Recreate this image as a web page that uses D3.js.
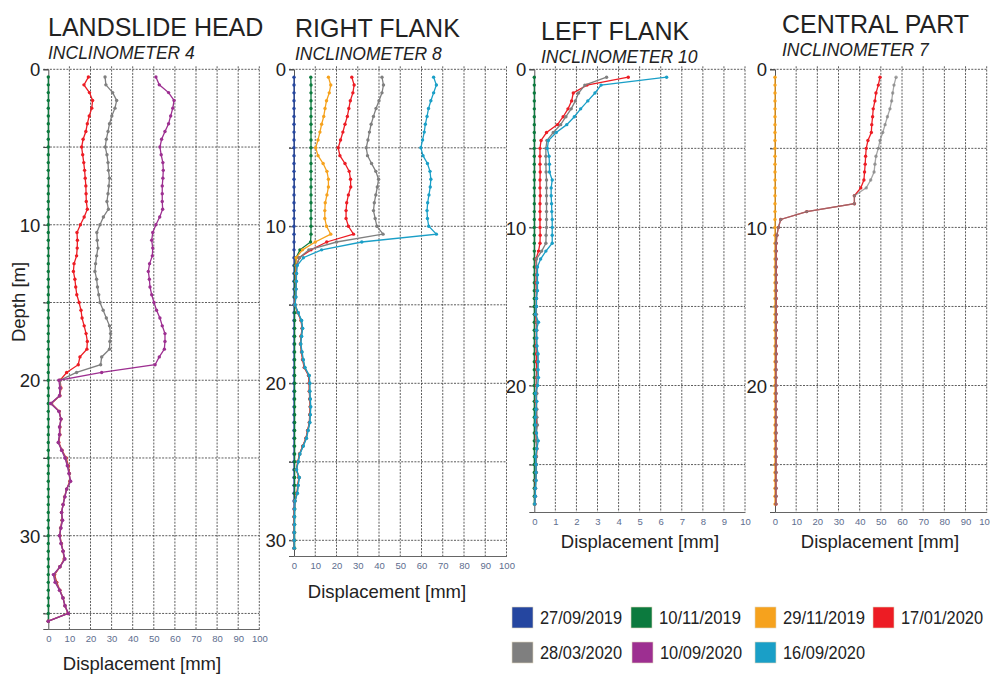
<!DOCTYPE html>
<html>
<head>
<meta charset="utf-8">
<script src="https://cdn.jsdelivr.net/npm/d3@7"></script>
<style>
  body { margin: 0; background: #fff; }
  text { font-family: Arial, "Liberation Sans", sans-serif; }
</style>
</head>
<body>
<div id="chart"></div>
<script>
// survey dates and their colours (legend order)
const dates = ["27/09/2019", "10/11/2019", "29/11/2019", "17/01/2020", "28/03/2020", "10/09/2020", "16/09/2020"];
const colors = ["#2546a0", "#0c7a3e", "#f6a21d", "#ed1c24", "#7f7f7f", "#9d2f91", "#1a9fc7"];

const xTicks100 = [0, 10, 20, 30, 40, 50, 60, 70, 80, 90, 100];
const xTicks10 = [0, 1, 2, 3, 4, 5, 6, 7, 8, 9, 10];
const depthLabels = [0, 10, 20, 30];

// measurement stations every 0.5 m
const depthsHead = d3.range(0.5, 35.75, 0.5);
const depthsRight = d3.range(0.5, 30.75, 0.5);
const depthsLeft = d3.range(0.5, 27.75, 0.5);
const depthsCentral = d3.range(0.5, 27.75, 0.5);

// inclinometer 4 - landslide head
const headGreen = [
  0,0,0,0,0,0,0,0,0,0, 0,0,0,0,0,0,0,0,0,0, 0,0,0,0,0,0,0,0,0,0, 0,0,0,0,0,0,0,0,0,0,
  0,0,0,0,0,0,0,0,0,0, 0,0,0,0,0,0,0,0,0,0, 0,0,0,0,0,0,0,0,0,0, 0];
const headRed = [
  19, 16.9, 19.5, 21, 20.6, 19.4, 18.5, 17.8, 16.5, 15.8,
  16.3, 16.8, 17.2, 17.5, 17.8, 17.9, 18, 18.5, 17, 15.2,
  13.6, 13.8, 13.7, 13.4, 12.2, 11.9, 12.6, 13, 13.5, 14.6,
  15.5, 16, 17, 17.9, 18.5, 18.3, 15, 14.2, 8.7, 5.6,
  6, 5.5, 1.5, 5.2, 6, 5.5, 5.5, 5, 6.5, 8.5,
  9.5, 10, 10.2, 8.7, 7.7, 7, 6.3, 6.5, 5.8, 5.5,
  6.2, 7, 7.5, 5.5, 3, 4, 5.5, 7, 7.9, 9.3,
  0];
const headGray = [
  26.9, 27.3, 30.5, 32.4, 31.6, 30.1, 29, 28.3, 27.5, 27,
  27.8, 28.3, 28.5, 29, 28.7, 28.3, 27.8, 28.5, 26.1, 24.5,
  23, 23.2, 23.5, 22.9, 22.4, 22.1, 22.9, 23.3, 23.9, 24.5,
  26, 27.5, 29, 29.5, 29.2, 29, 25.3, 24.8, 13.4, 5.6,
  5.7, 5.4, 1.3, 5.1, 6, 5.4, 5.4, 4.8, 6.4, 8.2,
  9.2, 9.9, 10.4, 8.7, 7.8, 7, 6.3, 6.6, 5.9, 5.4,
  6.1, 7, 7.7, 5.5, 2.7, 3.6, 5.4, 7, 7.9, 9.4,
  0];
const headPurple = [
  51, 52.6, 57, 59.6, 59, 58, 57, 55.3, 53.7, 52.9,
  53.5, 54.3, 54.5, 54.3, 54, 54, 54, 54.2, 52.8, 51,
  49.5, 49, 49.5, 49.3, 48, 47.4, 47.9, 48.2, 49, 50.1,
  51.3, 52.9, 54, 55.3, 55.3, 55, 52.6, 50.6, 25.3, 5,
  5.5, 5.3, 1.1, 5, 6, 5.3, 5.3, 4.7, 6.3, 7.9,
  9, 9.8, 10.6, 8.7, 7.9, 7, 6.3, 6.8, 6, 5.3,
  6, 7, 7.9, 5.5, 2.4, 3.2, 5.3, 6.9, 7.9, 9.5,
  0];

// inclinometer 8 - right flank
const rightBlue = [
  0,0,0,0,0,0,0,0,0,0, 0,0,0,0,0,0,0,0,0,0, 0,0,0,0,0,0,0,0,0,0,
  0,0,0,0,0,0,0,0,0,0, 0,0,0,0,0,0,0,0,0,0, 0,0,0,0,0,0,0,0,0,0, 0];
const rightGreen = [
  7.9, 8, 8, 8, 8, 8, 8, 8, 8, 8,
  8, 8, 8, 8, 8, 8, 8, 8, 8, 8,
  8, 7.8, 2.8, 1, 0.5, 0.4, 0.3, 0.3, 0.3, 0.3,
  0.3, 0.3, 0.3, 0.3, 0.3, 0.3, 0.3, 0.3, 0.3, 0.3,
  0.3, 0.3, 0.3, 0.3, 0.3, 0.3, 0.3, 0.3, 0.3, 0.3,
  0.3, 0.3, 0.3, 0.3, 0.3, 0.3, 0.3, 0.3, 0.3, 0.3,
  0.3];
const rightOrange = [
  16.2, 17.3, 16.6, 15.3, 14.6, 14, 13, 12.2, 11.3, 10.2,
  11.3, 13.7, 15.5, 16.2, 16.2, 15.5, 14.7, 14.5, 14.5, 15.3,
  17.3, 10, 4, 1,
  1, 0.9, 0.9, 0.8, 0.7, 0.4, 1.8, 3.4, 3.9, 3.4,
  3.1, 3.6, 4.2, 5, 7, 7.3, 7.3, 7.5, 7.7, 7.5,
  7.3, 6.5, 5.7, 4.2, 2.6, 1.8, 1.1, 2.3, 1.8, 1.4,
  0.4, 0.2, 0.1, 0.1, 0.1, 0.1, 0.1];
const rightRed = [
  27.2, 28.3, 27.7, 26.5, 25.8, 25.1, 24, 23, 21.9, 20.8,
  21.6, 24, 26, 26.6, 26.7, 25.6, 24.8, 24.5, 24.5, 25.6,
  28, 15.4, 8, 2.5,
  1.2, 1, 0.9, 0.8, 0.7, 0.4, 1.8, 3.3, 3.8, 3.3,
  3, 3.5, 4, 4.8, 6.8, 7.1, 7.2, 7.4, 7.6, 7.4,
  7.2, 6.4, 5.6, 4.1, 2.6, 1.8, 1.1, 2.3, 1.8, 1.4,
  0.4, 0.2, 0.1, 0.1, 0.1, 0.1, 0.1];
const rightGray = [
  41.4, 42.1, 41.4, 40, 38.6, 37.4, 36.3, 35.5, 34.8, 34,
  34.6, 36.5, 38.5, 39.8, 39.2, 38.5, 37.8, 37.4, 38.2, 39,
  41.9, 20, 7, 2.5,
  1.3, 1.1, 1, 0.9, 0.8, 0.45, 1.9, 3.4, 3.9, 3.4,
  3.1, 3.6, 4.2, 5, 7, 7.3, 7.3, 7.5, 7.7, 7.5,
  7.3, 6.5, 5.7, 4.2, 2.7, 1.9, 1.1, 2.4, 1.9, 1.5,
  0.45, 0.25, 0.15, 0.15, 0.1, 0.1, 0.1];
const rightCyan = [
  65.7, 67, 65.7, 64.4, 63.3, 62.6, 61.8, 61.3, 60.5, 59.7,
  60.7, 62.8, 64, 64.4, 64.1, 63.5, 62.9, 62.6, 62.8, 63.4,
  67, 31.9, 13, 4.4,
  1.5, 1.2, 1.1, 1, 0.9, 0.5, 2, 3.6, 4.1, 3.6,
  3.2, 3.8, 4.4, 5.2, 7.2, 7.5, 7.5, 7.7, 7.9, 7.7,
  7.5, 6.7, 5.9, 4.4, 2.8, 2, 1.2, 2.5, 2, 1.6,
  0.5, 0.3, 0.2, 0.2, 0.1, 0.1, 0.1];

// inclinometer 10 - left flank
const leftGreen = [
  0,0,0,0,0,0,0,0,0,0, 0,0,0,0,0,0,0,0,0,0, 0,0,0,0,0,0,0,0,0,0,
  0,0,0,0,0,0,0,0,0,0, 0,0,0,0,0,0,0,0,0,0, 0,0,0,0,0];
const leftRed = [
  4.46, 2.5, 1.85, 1.77, 1.6, 1.37, 1.1, 0.58, 0.32, 0.27,
  0.27, 0.27, 0.28, 0.27, 0.27, 0.28, 0.27, 0.27, 0.27, 0.27,
  0.28, 0.27, 0.2, 0.08, 0.1, 0.1, 0.08, 0.1, 0.1, 0.1,
  0.05, 0.1, 0.1, 0.1, 0.08, 0.1, 0.1, 0.12, 0.1, 0.1,
  0.1, 0.08, 0.1, 0.1, 0.1, 0.08, 0.1, 0.12, 0.1, 0.08,
  0.08, 0.05, 0.05, 0.05, 0.03];
const leftGray = [
  3.43, 2.4, 2.1, 1.95, 1.75, 1.5, 1.25, 0.9, 0.6, 0.55,
  0.55, 0.55, 0.56, 0.58, 0.58, 0.58, 0.58, 0.58, 0.58, 0.58,
  0.56, 0.55, 0.35, 0.1, 0.12, 0.12, 0.12, 0.12, 0.1, 0.1,
  0.1, 0.12, 0.12, 0.1, 0.12, 0.15, 0.18, 0.15, 0.12, 0.12,
  0.12, 0.1, 0.12, 0.12, 0.15, 0.1, 0.1, 0.12, 0.1, 0.1,
  0.1, 0.08, 0.06, 0.05, 0.03];
const leftCyan = [
  6.28, 3.17, 2.88, 2.54, 2.2, 1.9, 1.54, 1.04, 0.67, 0.62,
  0.7, 0.72, 0.72, 0.85, 0.8, 0.8, 0.82, 0.83, 0.85, 0.85,
  0.85, 0.85, 0.55, 0.3, 0.15, 0.15, 0.15, 0.15, 0.1, 0.1,
  0.05, 0.2, 0.1, 0.12, 0.12, 0.18, 0.18, 0.18, 0.2, 0.16,
  0.05, 0.12, 0.08, 0.05, 0.05, 0.1, 0.19, 0.12, 0.05, 0.08,
  0.08, 0.08, 0.05, 0.05, 0.02];

// inclinometer 7 - central part
const centralOrange = [
  0,0,0,0,0,0,0,0,0,0, 0,0,0,0,0,0,0,0,0,0, 0,0,0,0,0,0,0,0,0,0,
  0,0,0,0,0,0,0,0,0,0, 0,0,0,0,0,0,0,0,0,0, 0,0,0,0,0];
const centralRed = [
  49.6, 48.8, 47.7, 47.2, 46.4, 46.1, 45.7, 45.5, 43.9, 43.1,
  42.8, 42.6, 42.3, 42, 40.5, 37.5, 37.5, 15, 2.7, 1.6,
  0.9, 0.6, 0.6, 0.6, 0.6, 0.6, 0.6, 0.6, 0.6, 0.6,
  0.6, 0.6, 0.6, 0.6, 0.6, 0.6, 0.5, 0.5, 0.5, 0.5,
  0.5, 0.5, 0.5, 0.5, 0.5, 0.5, 0.5, 0.5, 0.5, 0.5,
  0.5, 0.5, 0.5, 0.5, 0.5];
const centralGray = [
  57.2, 56.2, 55.6, 55.1, 54.3, 53.1, 52, 50.9, 49.6, 48.8,
  47.7, 47.2, 46.8, 45.2, 43.1, 37.5, 37.5, 15, 2.7, 1.6,
  0.9, 0.5, 0.5, 0.5, 0.5, 0.5, 0.5, 0.5, 0.5, 0.5,
  0.5, 0.5, 0.5, 0.5, 0.5, 0.5, 0.5, 0.5, 0.5, 0.5,
  0.5, 0.5, 0.5, 0.5, 0.5, 0.5, 0.5, 0.5, 0.5, 0.5,
  0.5, 0.5, 0.5, 0.5, 0.5];

const width = 990, height = 675;

const svg = d3.select("#chart")
  .append("svg")
  .attr("width", width)
  .attr("height", height);

// panel layout
const panels = [
  { title: "LANDSLIDE HEAD", sub: "INCLINOMETER 4", tx: 48, ty: 36,
    left: 48.3, right: 259.3, top: 69.3, bottom: 629, maxDepth: 36, maxDisp: 100,
    xTicks: xTicks100, depths: depthsHead, labelX: 142, labelY: 670,
    series: [[1, headGreen], [3, headRed], [4, headGray], [5, headPurple]] },
  { title: "RIGHT FLANK", sub: "INCLINOMETER 8", tx: 295, ty: 37,
    left: 294, right: 506.5, top: 69.3, bottom: 556, maxDepth: 31, maxDisp: 100,
    xTicks: xTicks100, depths: depthsRight, labelX: 387, labelY: 598,
    series: [[0, rightBlue], [1, rightGreen], [2, rightOrange], [3, rightRed], [4, rightGray], [6, rightCyan]] },
  { title: "LEFT FLANK", sub: "INCLINOMETER 10", tx: 541, ty: 40,
    left: 534.3, right: 745, top: 69.3, bottom: 512, maxDepth: 28, maxDisp: 10,
    xTicks: xTicks10, depths: depthsLeft, labelX: 640, labelY: 548,
    series: [[1, leftGreen], [3, leftRed], [4, leftGray], [6, leftCyan]] },
  { title: "CENTRAL PART", sub: "INCLINOMETER 7", tx: 782, ty: 33,
    left: 775, right: 986.7, top: 69.3, bottom: 512, maxDepth: 28, maxDisp: 100,
    xTicks: xTicks100, depths: depthsCentral, labelX: 880, labelY: 548,
    series: [[2, centralOrange], [3, centralRed], [4, centralGray, 0.7]] }
];

panels.forEach(p => {
  const x = d3.scaleLinear().domain([0, p.maxDisp]).range([p.left, p.right]);
  const y = d3.scaleLinear().domain([0, p.maxDepth]).range([p.top, p.bottom]);
  const g = svg.append("g");

  // titles
  g.append("text")
    .attr("x", p.tx).attr("y", p.ty)
    .style("font-size", "25px").style("fill", "#222")
    .text(p.title);
  g.append("text")
    .attr("x", p.tx).attr("y", p.ty + 23)
    .style("font-size", "17.5px").style("font-style", "italic").style("fill", "#222")
    .text(p.sub);

  // grid
  const gridDepths = d3.range(0, p.maxDepth, 5);
  g.append("g").selectAll("line")
    .data(gridDepths)
    .enter().append("line")
    .attr("x1", p.left - 5).attr("x2", p.right)
    .attr("y1", d => y(d)).attr("y2", d => y(d))
    .attr("stroke", "#333").attr("stroke-width", 0.8)
    .attr("stroke-dasharray", "2,1.3");
  g.append("g").selectAll("line")
    .data(p.xTicks.slice(1))
    .enter().append("line")
    .attr("x1", d => x(d)).attr("x2", d => x(d))
    .attr("y1", p.top - 3).attr("y2", p.bottom)
    .attr("stroke", "#333").attr("stroke-width", 0.8)
    .attr("stroke-dasharray", "2,1.3");

  // depth axis
  const yAxis = d3.axisLeft(y)
    .tickValues(gridDepths)
    .tickSize(5)
    .tickPadding(3)
    .tickFormat(d => depthLabels.includes(d) ? d : "");
  const ya = g.append("g")
    .attr("transform", `translate(${p.left},0)`)
    .call(yAxis);
  ya.select(".domain").attr("stroke", "#555").attr("stroke-width", 1);
  ya.selectAll(".tick line").attr("stroke", "#444");
  ya.selectAll(".tick text")
    .attr("dy", "0.36em")
    .style("font-size", "18.5px").style("fill", "#222")
    .style("font-family", "Arial, 'Liberation Sans', sans-serif");

  // displacement axis
  const xAxis = d3.axisBottom(x)
    .tickValues(p.xTicks)
    .tickSize(0)
    .tickPadding(6);
  const xa = g.append("g")
    .attr("transform", `translate(0,${p.bottom})`)
    .call(xAxis);
  xa.select(".domain").attr("stroke", "#666").attr("stroke-width", 1);
  xa.selectAll(".tick text")
    .style("font-size", "9.5px").style("fill", "#5d6d8e")
    .style("font-family", "Arial, 'Liberation Sans', sans-serif");

  g.append("text")
    .attr("x", p.labelX).attr("y", p.labelY)
    .attr("text-anchor", "middle")
    .style("font-size", "18.5px").style("fill", "#222")
    .text("Displacement [mm]");

  // series
  const line = d3.line()
    .x(d => x(d.v))
    .y(d => y(d.d));

  p.series.forEach(([ci, values, op]) => {
    const pts = values.map((v, i) => ({ d: p.depths[i], v: v }));
    const sg = g.append("g");
    sg.append("path")
      .datum(pts)
      .attr("d", line)
      .attr("fill", "none")
      .attr("stroke", colors[ci])
      .attr("stroke-width", 1.3)
      .attr("stroke-opacity", op || 1);
    sg.selectAll("circle")
      .data(pts)
      .enter().append("circle")
      .attr("cx", d => x(d.v))
      .attr("cy", d => y(d.d))
      .attr("r", 1.7)
      .attr("fill", colors[ci])
      .attr("fill-opacity", op || 1);
  });
});

// depth label
svg.append("text")
  .attr("transform", "translate(25,302) rotate(-90)")
  .attr("text-anchor", "middle")
  .style("font-size", "18.5px").style("fill", "#222")
  .text("Depth [m]");

// legend
const legendPos = [[512, 607], [631, 607], [755, 607], [873, 607], [512, 642], [632, 642], [755, 642]];
const legend = svg.append("g")
  .selectAll("g")
  .data(dates)
  .enter().append("g")
  .attr("transform", (d, i) => `translate(${legendPos[i][0]},${legendPos[i][1]})`);

legend.append("rect")
  .attr("width", 21).attr("height", 21)
  .attr("fill", (d, i) => colors[i])
  .attr("stroke", "#e0d8c0").attr("stroke-width", 0.6);

legend.append("text")
  .attr("x", 28).attr("y", 17)
  .attr("textLength", 82)
  .attr("lengthAdjust", "spacingAndGlyphs")
  .style("font-size", "18.5px").style("fill", "#222")
  .text(d => d);
</script>
</body>
</html>
